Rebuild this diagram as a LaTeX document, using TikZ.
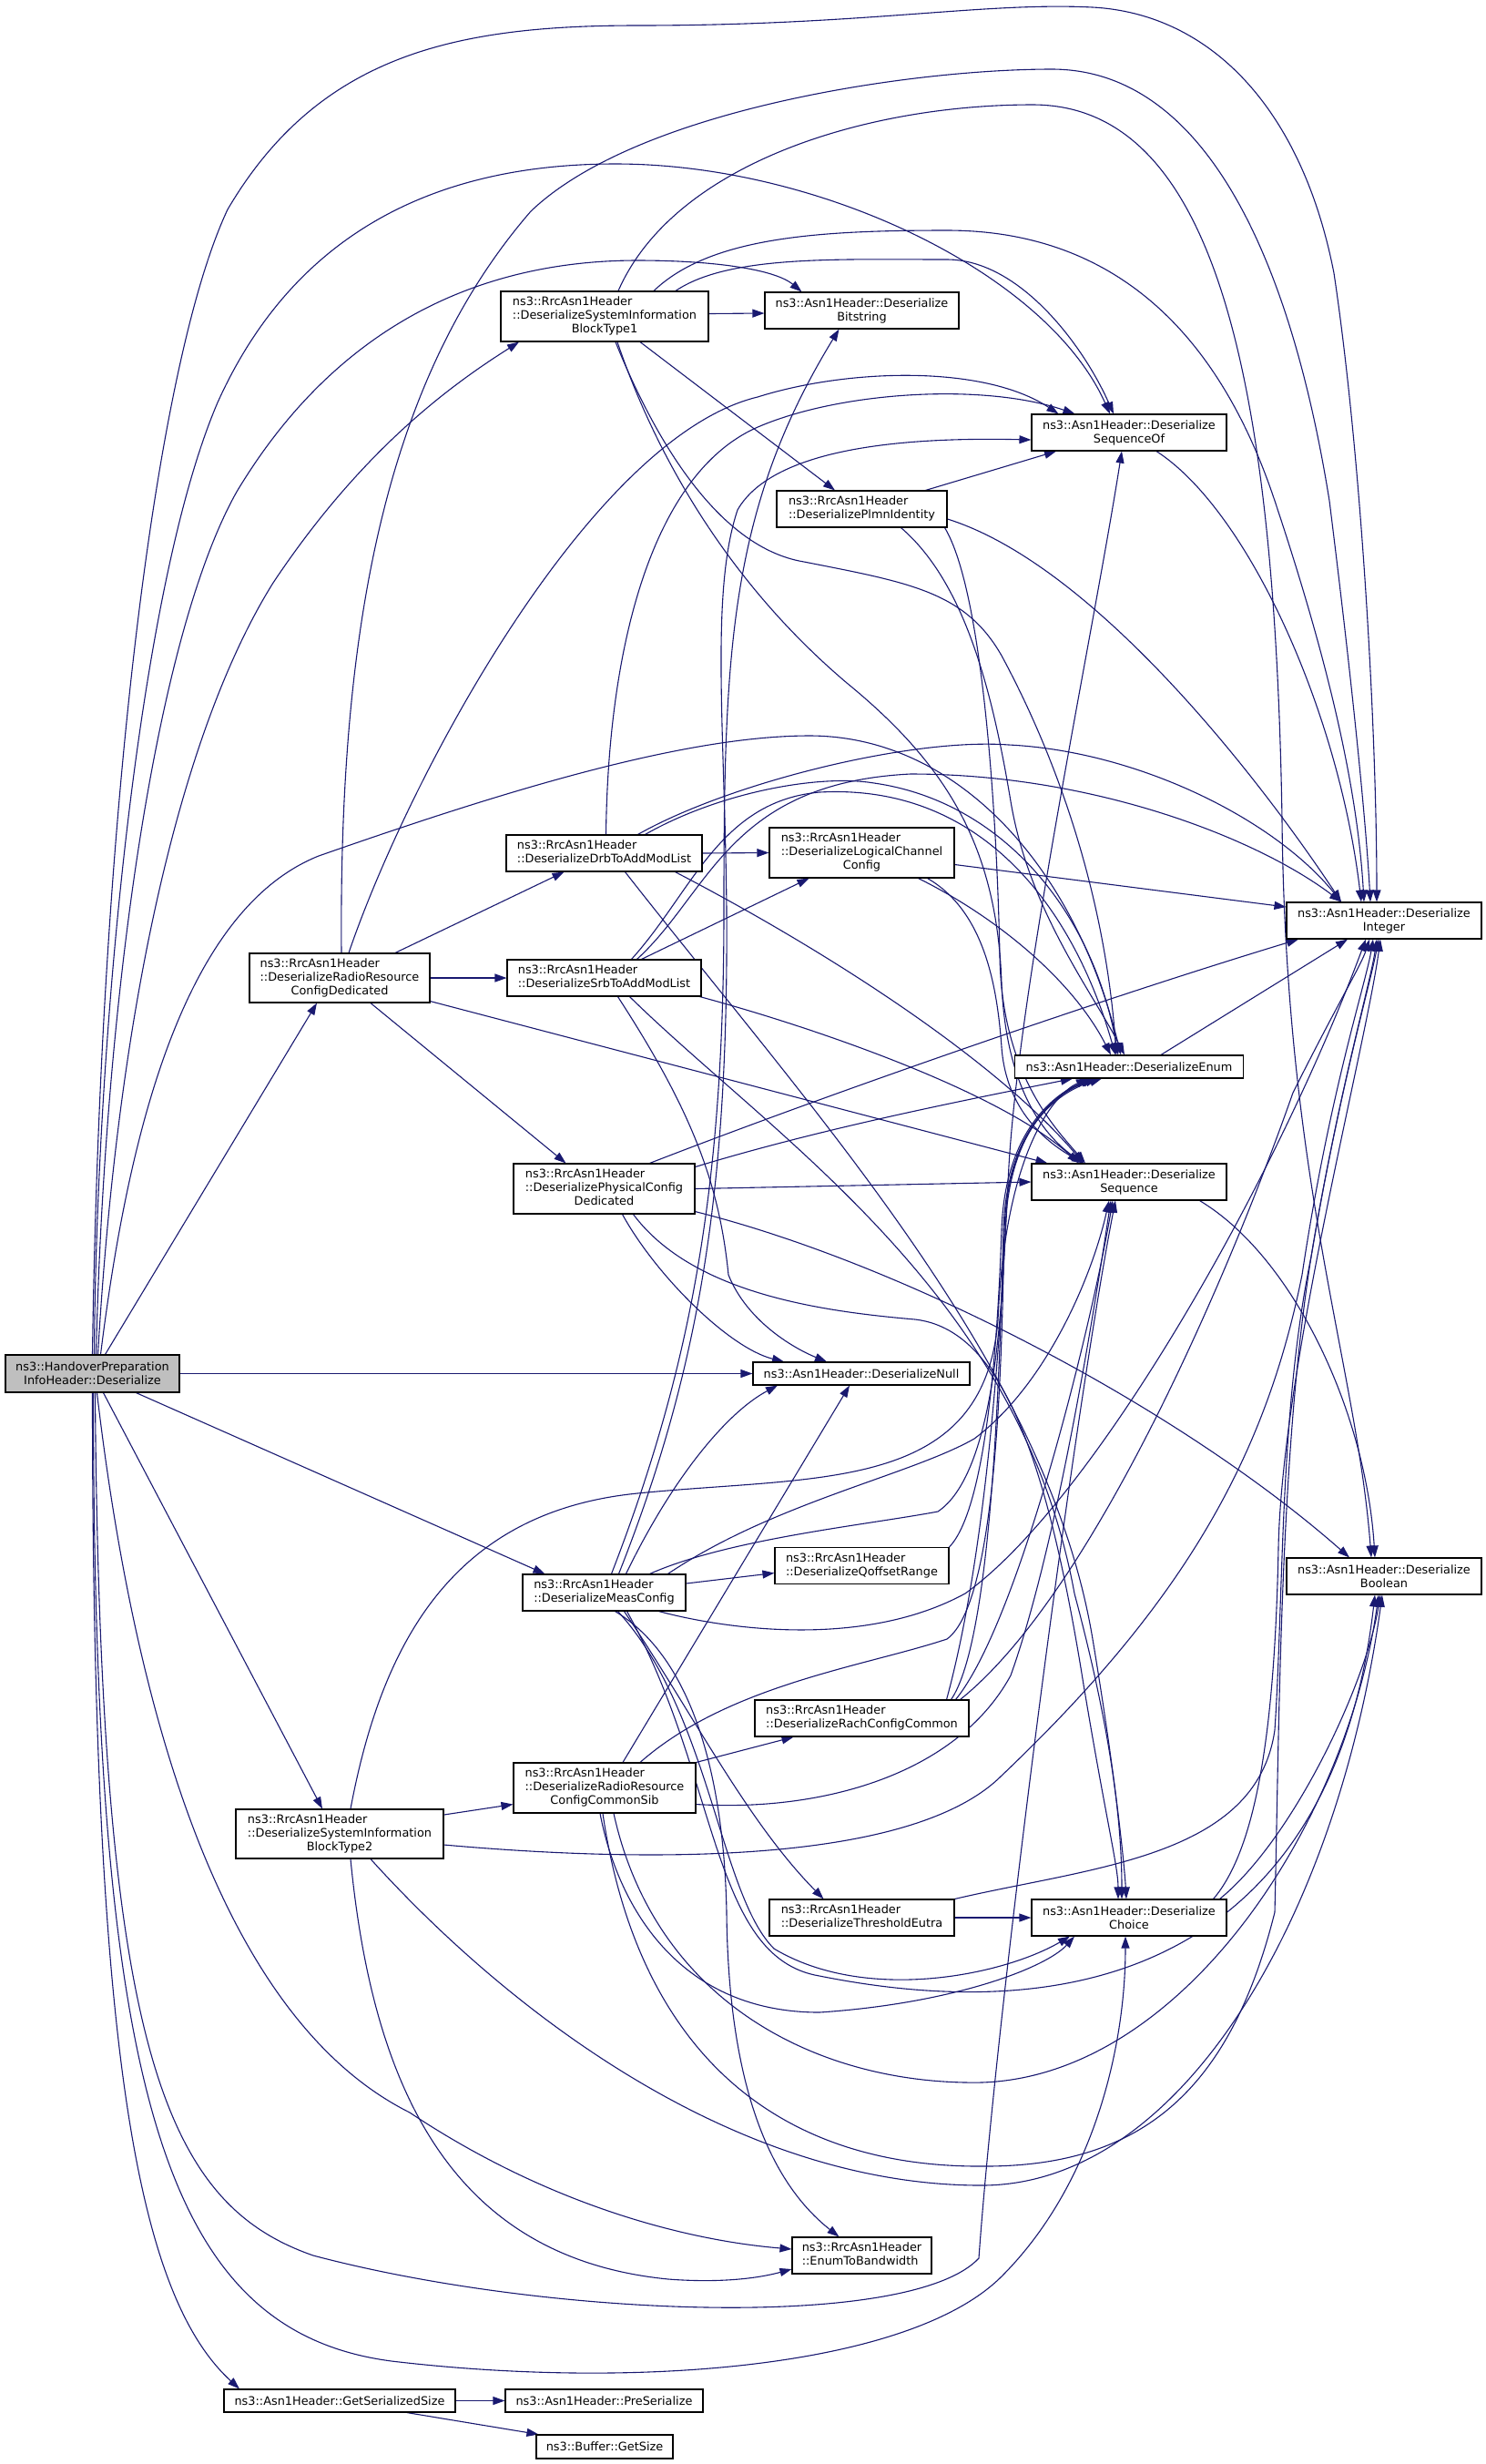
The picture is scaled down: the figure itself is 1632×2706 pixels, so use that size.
\documentclass[tikz,border=0pt]{standalone}
\usepackage{fontspec}
\setmainfont{DejaVu Sans}
\usetikzlibrary{arrows.meta,calc,backgrounds}

\definecolor{Call}{HTML}{191970}
\definecolor{Root}{HTML}{BFBFBF}

\newcommand{\dgfont}{\fontsize{6.43}{7.5}\selectfont}
\newcommand{\lft}[2]{\begin{tabular}{@{}l@{}}#1\\#2\end{tabular}}
\newcommand{\lftc}[3]{\begin{tabular}{@{}l@{}}#1\\#2\\\multicolumn{1}{@{}c@{}}{#3}\end{tabular}}

\begin{document}
\begin{tikzpicture}[x=0.5pt, y=-0.5pt,
  fn/.style={draw=black, line width=0.55pt, fill=white, inner sep=0pt, align=center, font=\dgfont},
  call/.style={draw=Call, line width=0.55pt, -{Triangle[length=6.5pt, width=4.5pt]}}]

 \useasboundingbox (0,0) rectangle (1632,2706) ;

 %%%%%%%%%% Functions %%%%%%%%%%
 \node[fn, fill=Root, minimum width=95.5pt, minimum height=20.5pt] (main) at (101.5,1508.5) {ns3::HandoverPreparation\\InfoHeader::Deserialize};
 \node[fn, minimum width=114pt, minimum height=27.5pt] (sib1) at (664,347.5) {\lftc{ns3::RrcAsn1Header}{::DeserializeSystemInformation}{BlockType1}};
 \node[fn, minimum width=106.5pt, minimum height=20pt] (bitstr) at (946.5,341) {ns3::Asn1Header::Deserialize\\Bitstring};
 \node[fn, minimum width=93.5pt, minimum height=20pt] (plmn) at (946.5,559) {\lft{ns3::RrcAsn1Header}{::DeserializePlmnIdentity}};
 \node[fn, minimum width=107pt, minimum height=20pt] (seqof) at (1240,475) {ns3::Asn1Header::Deserialize\\SequenceOf};
 \node[fn, minimum width=107.5pt, minimum height=20pt] (drb) at (663.5,937) {\lft{ns3::RrcAsn1Header}{::DeserializeDrbToAddModList}};
 \node[fn, minimum width=101.5pt, minimum height=27.5pt] (lcc) at (946.5,936.5) {\lftc{ns3::RrcAsn1Header}{::DeserializeLogicalChannel}{Config}};
 \node[fn, minimum width=99pt, minimum height=27pt] (rrcd) at (373,1074) {\lftc{ns3::RrcAsn1Header}{::DeserializeRadioResource}{ConfigDedicated}};
 \node[fn, minimum width=106.5pt, minimum height=20pt] (srb) at (663.5,1074) {\lft{ns3::RrcAsn1Header}{::DeserializeSrbToAddModList}};
 \node[fn, minimum width=107pt, minimum height=20pt] (integ) at (1520,1011) {ns3::Asn1Header::Deserialize\\Integer};
 \node[fn, minimum width=125.5pt, minimum height=12.5pt] (enum) at (1240,1171.5) {ns3::Asn1Header::DeserializeEnum};
 \node[fn, minimum width=107pt, minimum height=20pt] (seq) at (1240,1298) {ns3::Asn1Header::Deserialize\\Sequence};
 \node[fn, minimum width=99.5pt, minimum height=27.5pt] (phys) at (663.5,1305.5) {\lftc{ns3::RrcAsn1Header}{::DeserializePhysicalConfig}{Dedicated}};
 \node[fn, minimum width=119pt, minimum height=12.5pt] (dnull) at (946,1508.5) {ns3::Asn1Header::DeserializeNull};
 \node[fn, minimum width=89.5pt, minimum height=20pt] (meas) at (663.5,1749) {\lft{ns3::RrcAsn1Header}{::DeserializeMeasConfig}};
 \node[fn, minimum width=95.5pt, minimum height=20pt] (qoff) at (946.5,1719.5) {\lft{ns3::RrcAsn1Header}{::DeserializeQoffsetRange}};
 \node[fn, minimum width=107pt, minimum height=20pt] (boolean) at (1520,1731) {ns3::Asn1Header::Deserialize\\Boolean};
 \node[fn, minimum width=117.5pt, minimum height=20pt] (rach) at (946.5,1887) {\lft{ns3::RrcAsn1Header}{::DeserializeRachConfigCommon}};
 \node[fn, minimum width=100pt, minimum height=27.5pt] (rrcc) at (664,1963.5) {\lftc{ns3::RrcAsn1Header}{::DeserializeRadioResource}{ConfigCommonSib}};
 \node[fn, minimum width=114pt, minimum height=27pt] (sib2) at (373,2014) {\lftc{ns3::RrcAsn1Header}{::DeserializeSystemInformation}{BlockType2}};
 \node[fn, minimum width=101.5pt, minimum height=20pt] (thresh) at (946.5,2106) {\lft{ns3::RrcAsn1Header}{::DeserializeThresholdEutra}};
 \node[fn, minimum width=107pt, minimum height=20pt] (choice) at (1240,2106) {ns3::Asn1Header::Deserialize\\Choice};
 \node[fn, minimum width=76.5pt, minimum height=20pt] (bandw) at (946.5,2477) {\lft{ns3::RrcAsn1Header}{::EnumToBandwidth}};
 \node[fn, minimum width=127pt, minimum height=12.5pt] (getser) at (373,2636.5) {ns3::Asn1Header::GetSerializedSize};
 \node[fn, minimum width=108.5pt, minimum height=12.5pt] (preser) at (663.5,2636.5) {ns3::Asn1Header::PreSerialize};
 \node[fn, minimum width=75pt, minimum height=13pt] (bufsz) at (664,2687) {ns3::Buffer::GetSize};

 \begin{scope}[on background layer]

 %%%%%%%%%% Calls of the root %%%%%%%%%%
 \draw [call] (main.north) .. controls (110,900) and (170,400) .. (250,230) .. controls (350,60) and (500,28) .. (700,28) .. controls (950,28) and (1080,2) .. (1200,8) .. controls (1330,15) and (1430,120) .. (1465,300) .. controls (1495,500) and (1512,800) .. ($(integ.north)+(-8,0)$) ;
 \draw [call] ($(main.north)+(2,0)$) .. controls (106,1150) and (150,650) .. (239,442) .. controls (330,240) and (500,180) .. (676,180) .. controls (900,180) and (1150,300) .. ($(seqof.north)+(-21,0)$) ;
 \draw [call] ($(main.north)+(4,0)$) .. controls (115,1100) and (170,700) .. (260,540) .. controls (380,340) and (550,286) .. (700,286) .. controls (780,286) and (850,295) .. ($(bitstr.north)+(-66,0)$) ;
 \draw [call] ($(main.north)+(6,0)$) .. controls (130,1100) and (200,800) .. (300,640) .. controls (400,490) and (500,420) .. ($(sib1.south)+(-94,0)$) ;
 \draw [call] ($(main.north)+(9,0)$) .. controls (140,1250) and (200,1000) .. (350,940) .. controls (550,870) and (750,808) .. (889,808) .. controls (1050,808) and (1180,950) .. ($(enum.north)+(-9,0)$) ;
 \draw [call] ($(main.north)+(14,0)$) -- ($(rrcd.south)+(-25,0)$) ;
 \draw [call] (main.east) -- (dnull.west) ;
 \draw [call] ($(main.south)+(48,0)$) -- ($(meas.north)+(-65,0)$) ;
 \draw [call] ($(main.south)+(12,0)$) -- ($(sib2.north)+(-19,0)$) ;
 \draw [call] (main.south) .. controls (101.5,2250) and (150,2520) .. ($(getser.north)+(-110,0)$) ;
 \draw [call] ($(main.south)+(1,0)$) .. controls (103,2300) and (180,2560) .. (430,2593) .. controls (700,2625) and (1000,2600) .. (1100,2500) .. controls (1200,2400) and (1236,2250) .. ($(choice.south)+(-4,0)$) ;
 \draw [call] ($(main.south)+(3,0)$) .. controls (110,2250) and (180,2420) .. (344,2477) .. controls (600,2545) and (1000,2560) .. (1075,2480) .. controls (1095,2200) and (1180,1550) .. ($(seq.south)+(-15,0)$) ;
 \draw [call] ($(main.south)+(5,0)$) .. controls (150,1900) and (250,2220) .. (450,2320) .. controls (600,2420) and (750,2460) .. ($(bandw.west)+(0,-7)$) ;

 %%%%%%%%%% SystemInformationBlockType1 %%%%%%%%%%
 \draw [call] ($(sib1.east)+(0,-3)$) -- ($(bitstr.west)+(0,3)$) ;
 \draw [call] ($(sib1.south)+(39,0)$) -- ($(plmn.north)+(-29.5,0)$) ;
 \draw [call] ($(sib1.north)+(78,0)$) .. controls (800,280) and (920,285) .. (1040,285) .. controls (1120,285) and (1190,380) .. ($(seqof.north)+(-17,0)$) ;
 \draw [call] ($(sib1.north)+(54,0)$) .. controls (780,260) and (900,253) .. (1040,253) .. controls (1250,253) and (1350,400) .. (1400,550) .. controls (1450,700) and (1490,850) .. ($(integ.north)+(-22,0)$) ;
 \draw [call] ($(sib1.north)+(15,0)$) .. controls (740,180) and (950,115) .. (1134,115) .. controls (1330,115) and (1400,400) .. (1408,900) .. controls (1412,1300) and (1490,1500) .. ($(boolean.north)+(-14,0)$) ;
 \draw [call] ($(sib1.south)+(12,0)$) .. controls (710,460) and (780,600) .. (883,617) .. controls (1000,640) and (1060,650) .. (1100,720) .. controls (1170,850) and (1215,1000) .. ($(enum.north)+(-14,0)$) ;
 \draw [call] ($(sib1.south)+(14,0)$) .. controls (720,500) and (800,640) .. (930,750) .. controls (1040,840) and (1095,930) .. (1100,1080) .. controls (1105,1200) and (1150,1250) .. ($(seq.north)+(-50,0)$) ;

 %%%%%%%%%% PlmnIdentity and SequenceOf %%%%%%%%%%
 \draw [call] ($(plmn.north)+(70,0)$) -- ($(seqof.south)+(-80,0)$) ;
 \draw [call] ($(plmn.east)+(0,11)$) .. controls (1200,620) and (1380,850) .. ($(integ.north)+(-47,0)$) ;
 \draw [call] ($(plmn.south)+(43,0)$) .. controls (1060,640) and (1090,760) .. (1110,880) .. controls (1130,1000) and (1200,1090) .. ($(enum.north)+(-5,0)$) ;
 \draw [call] ($(plmn.south east)+(-3,0)$) .. controls (1080,650) and (1095,900) .. (1098,1050) .. controls (1100,1180) and (1160,1240) .. ($(seq.north)+(-48,0)$) ;
 \draw [call] ($(seqof.south)+(30,0)$) .. controls (1370,560) and (1470,780) .. ($(integ.north)+(-25,0)$) ;

 %%%%%%%%%% RadioResourceConfigDedicated %%%%%%%%%%
 \draw [call] ($(rrcd.north)+(61,0)$) -- ($(drb.south)+(-44,0)$) ;
 \draw [call] (rrcd.east) -- (srb.west) ;
 \draw [call] ($(rrcd.south)+(34,0)$) -- ($(phys.north)+(-42,0)$) ;
 \draw [call] ($(rrcd.south east)+(0,-2)$) -- ($(seq.north west)+(18,0)$) ;
 \draw [call] ($(rrcd.north)+(10,0)$) .. controls (450,850) and (650,480) .. (832,436) .. controls (930,405) and (1080,400) .. ($(seqof.north west)+(30,0)$) ;
 \draw [call] ($(rrcd.north)+(2,0)$) .. controls (372,700) and (420,420) .. (583,232) .. controls (700,120) and (1000,76) .. (1155,76) .. controls (1330,76) and (1420,300) .. (1460,550) .. controls (1485,750) and (1500,900) .. ($(integ.north)+(-15,0)$) ;

 %%%%%%%%%% DrbToAddModList %%%%%%%%%%
 \draw [call] (drb.east) -- (lcc.west) ;
 \draw [call] ($(drb.north)+(2,0)$) .. controls (668,700) and (720,520) .. (830,470) .. controls (920,430) and (1080,420) .. ($(seqof.north west)+(48,0)$) ;
 \draw [call] ($(drb.north)+(37,0)$) .. controls (800,860) and (1000,810) .. (1108,818) .. controls (1250,825) and (1400,900) .. ($(integ.north)+(-47,0)$) ;
 \draw [call] ($(drb.north)+(45,0)$) .. controls (790,870) and (900,850) .. (960,860) .. controls (1100,880) and (1200,1000) .. ($(enum.north)+(-12,0)$) ;
 \draw [call] ($(drb.south)+(78,0)$) .. controls (900,1040) and (1090,1160) .. ($(seq.north)+(-50,0)$) ;
 \draw [call] ($(drb.south)+(23,0)$) .. controls (900,1230) and (1150,1500) .. (1200,1800) .. controls (1225,1950) and (1235,2050) .. ($(choice.north)+(-3,0)$) ;

 %%%%%%%%%% SrbToAddModList %%%%%%%%%%
 \draw [call] ($(srb.north)+(41,0)$) -- ($(lcc.south)+(-58,0)$) ;
 \draw [call] ($(srb.north)+(36,0)$) .. controls (780,980) and (800,860) .. (1000,850) .. controls (1200,850) and (1380,920) .. ($(integ.north)+(-47,0)$) ;
 \draw [call] ($(srb.north)+(30,0)$) .. controls (760,980) and (790,880) .. (900,870) .. controls (1080,860) and (1180,1000) .. ($(enum.north)+(-15,0)$) ;
 \draw [call] ($(srb.south east)+(-2,0)$) .. controls (900,1130) and (1100,1200) .. ($(seq.north)+(-55,0)$) ;
 \draw [call] ($(srb.south)+(28,0)$) .. controls (850,1250) and (1120,1420) .. (1180,1750) .. controls (1220,1900) and (1232,2000) .. ($(choice.north)+(-8,0)$) ;
 \draw [call] ($(srb.south)+(15,0)$) .. controls (760,1220) and (790,1300) .. (800,1400) .. controls (820,1450) and (870,1480) .. ($(dnull.north)+(-38,0)$) ;

 %%%%%%%%%% LogicalChannelConfig %%%%%%%%%%
 \draw [call] ($(lcc.east)+(0,13)$) -- ($(integ.west)+(0,-15)$) ;
 \draw [call] ($(lcc.south east)+(-40,0)$) .. controls (1100,1010) and (1180,1080) .. ($(enum.north)+(-20,0)$) ;
 \draw [call] ($(lcc.south east)+(-30,0)$) .. controls (1080,1000) and (1095,1080) .. (1100,1150) .. controls (1105,1220) and (1150,1255) .. ($(seq.north)+(-50,0)$) ;

 %%%%%%%%%% PhysicalConfigDedicated %%%%%%%%%%
 \draw [call] (phys.east) -- (seq.west) ;
 \draw [call] ($(phys.north)+(50,0)$) .. controls (900,1205) and (1200,1100) .. ($(integ.south)+(-94,0)$) ;
 \draw [call] ($(phys.east)+(0,-24)$) .. controls (900,1240) and (1050,1210) .. ($(enum.south)+(-62,0)$) ;
 \draw [call] ($(phys.south east)+(0,-3)$) .. controls (1000,1390) and (1300,1550) .. ($(boolean.north)+(-38,0)$) ;
 \draw [call] ($(phys.south)+(20,0)$) .. controls (720,1400) and (800,1480) .. ($(dnull.north)+(-85,0)$) ;
 \draw [call] ($(phys.south)+(32,0)$) .. controls (760,1420) and (900,1440) .. (1005,1449) .. controls (1100,1460) and (1150,1600) .. (1190,1850) .. controls (1215,2000) and (1228,2050) .. ($(choice.north)+(-12,0)$) ;

 %%%%%%%%%% MeasConfig %%%%%%%%%%
 \draw [call] ($(meas.east)+(0,-10)$) -- ($(qoff.west)+(0,8)$) ;
 \draw [call] ($(meas.south)+(22,0)$) .. controls (760,1880) and (820,2000) .. ($(thresh.north)+(-42,0)$) ;
 \draw [call] ($(meas.south)+(12,0)$) .. controls (760,1820) and (795,1950) .. (798,2100) .. controls (800,2300) and (850,2400) .. ($(bandw.north)+(-25,0)$) ;
 \draw [call] ($(meas.north)+(8,0)$) .. controls (760,1500) and (795,1300) .. (795,1000) .. controls (795,720) and (800,560) .. ($(bitstr.south)+(-25,0)$) ;
 \draw [call] ($(meas.north)+(16,0)$) .. controls (770,1500) and (800,1300) .. (798,1000) .. controls (796,800) and (780,650) .. (810,560) .. controls (850,490) and (1000,480) .. ($(seqof.west)+(0,8)$) ;
 \draw [call] ($(meas.north)+(24,0)$) .. controls (740,1620) and (800,1550) .. ($(dnull.south)+(-92,0)$) ;
 \draw [call] ($(meas.north)+(50,0)$) .. controls (800,1690) and (950,1675) .. (1030,1660) .. controls (1090,1620) and (1100,1450) .. (1104,1350) .. controls (1108,1240) and (1160,1200) .. ($(enum.south)+(-38,0)$) ;
 \draw [call] ($(meas.north)+(70,0)$) .. controls (850,1650) and (1000,1620) .. (1070,1580) .. controls (1150,1520) and (1200,1400) .. ($(seq.south)+(-22,0)$) ;
 \draw [call] ($(meas.south east)+(-30,0)$) .. controls (800,1790) and (950,1810) .. (1060,1750) .. controls (1200,1650) and (1400,1300) .. ($(integ.south)+(-20,0)$) ;
 \draw [call] ($(meas.south)+(15,0)$) .. controls (780,1880) and (790,2080) .. (850,2140) .. controls (950,2200) and (1100,2170) .. ($(choice.south)+(-65,0)$) ;
 \draw [call] ($(meas.south)+(25,0)$) .. controls (790,1950) and (780,2150) .. (900,2170) .. controls (1250,2240) and (1470,2100) .. ($(boolean.south)+(-10,0)$) ;

 %%%%%%%%%% QoffsetRange and RachConfigCommon %%%%%%%%%%
 \draw [call] (qoff.north east) .. controls (1080,1660) and (1095,1500) .. (1100,1350) .. controls (1104,1240) and (1160,1200) .. ($(enum.south)+(-40,0)$) ;
 \draw [call] ($(rach.north east)+(-20,0)$) .. controls (1090,1800) and (1098,1500) .. (1102,1350) .. controls (1106,1240) and (1160,1200) .. ($(enum.south)+(-35,0)$) ;
 \draw [call] ($(rach.north east)+(-15,0)$) .. controls (1120,1780) and (1200,1450) .. ($(seq.south)+(-18,0)$) ;
 \draw [call] ($(rach.north east)+(-10,0)$) .. controls (1200,1750) and (1350,1400) .. (1420,1200) .. controls (1470,1100) and (1495,1060) .. ($(integ.south)+(-16,0)$) ;
 \draw [call] ($(rach.north east)+(-25,0)$) .. controls (1085,1700) and (1100,1450) .. (1107,1300) .. controls (1115,1100) and (1200,700) .. ($(seqof.south)+(-8,0)$) ;

 %%%%%%%%%% RadioResourceConfigCommonSib %%%%%%%%%%
 \draw [call] (rrcc.north east) -- ($(rach.south)+(-75,0)$) ;
 \draw [call] ($(rrcc.north)+(20,0)$) -- ($(dnull.south)+(-13,0)$) ;
 \draw [call] ($(rrcc.north)+(39,0)$) .. controls (800,1850) and (950,1830) .. (1040,1800) .. controls (1095,1760) and (1100,1500) .. (1103,1350) .. controls (1107,1240) and (1160,1200) .. ($(enum.south)+(-30,0)$) ;
 \draw [call] ($(rrcc.east)+(0,18)$) .. controls (900,1990) and (1050,1950) .. (1110,1840) .. controls (1160,1700) and (1200,1450) .. ($(seq.south)+(-20,0)$) ;
 \draw [call] ($(rrcc.south)+(-5,0)$) .. controls (680,2100) and (750,2210) .. (900,2210) .. controls (1050,2200) and (1150,2160) .. ($(choice.south)+(-60,0)$) ;
 \draw [call] ($(rrcc.south)+(10,0)$) .. controls (720,2200) and (900,2290) .. (1078,2287) .. controls (1300,2280) and (1480,2000) .. ($(boolean.south)+(-6,0)$) ;
 \draw [call] ($(rrcc.south)+(-2,0)$) .. controls (700,2250) and (850,2380) .. (1078,2379) .. controls (1250,2380) and (1350,2300) .. (1400,2100) .. controls (1405,1900) and (1405,1600) .. (1440,1380) .. controls (1470,1200) and (1505,1080) .. ($(integ.south)+(-8,0)$) ;

 %%%%%%%%%% SystemInformationBlockType2 %%%%%%%%%%
 \draw [call] ($(sib2.east)+(0,-21)$) -- ($(rrcc.west)+(0,18)$) ;
 \draw [call] ($(sib2.north)+(12,0)$) .. controls (420,1800) and (500,1660) .. (700,1640) .. controls (900,1620) and (1080,1640) .. (1096,1450) .. controls (1104,1260) and (1160,1200) .. ($(enum.south)+(-45,0)$) ;
 \draw [call] ($(sib2.east)+(0,12)$) .. controls (700,2045) and (1000,2050) .. (1100,1950) .. controls (1300,1760) and (1390,1600) .. (1430,1400) .. controls (1460,1200) and (1500,1080) .. ($(integ.south)+(-12,0)$) ;
 \draw [call] ($(sib2.south)+(34,0)$) .. controls (550,2200) and (800,2400) .. (1078,2400) .. controls (1300,2400) and (1470,2100) .. ($(boolean.south)+(-2,0)$) ;
 \draw [call] ($(sib2.south)+(12,0)$) .. controls (410,2300) and (500,2480) .. (734,2503) .. controls (800,2508) and (840,2500) .. ($(bandw.west)+(0,15)$) ;

 %%%%%%%%%% ThresholdEutra, Choice, Sequence, Enum %%%%%%%%%%
 \draw [call] (thresh.east) -- (choice.west) ;
 \draw [call] (thresh.north east) .. controls (1200,2050) and (1380,2040) .. (1400,1900) .. controls (1410,1750) and (1405,1550) .. (1440,1380) .. controls (1470,1200) and (1505,1080) .. ($(integ.south)+(-6,0)$) ;
 \draw [call] ($(choice.north east)+(-15,0)$) .. controls (1380,2030) and (1400,1900) .. (1404,1700) .. controls (1408,1500) and (1500,1150) .. ($(integ.south)+(-4,0)$) ;
 \draw [call] ($(choice.north east)+(-8,0)$) .. controls (1420,2020) and (1500,1850) .. ($(boolean.south)+(-4,0)$) ;
 \draw [call] ($(seq.south east)+(-30,0)$) .. controls (1420,1380) and (1500,1550) .. ($(boolean.north)+(-10,0)$) ;
 \draw [call] ($(enum.north)+(35,0)$) -- ($(integ.south)+(-40,0)$) ;

 %%%%%%%%%% GetSerializedSize %%%%%%%%%%
 \draw [call] (getser.east) -- (preser.west) ;
 \draw [call] ($(getser.south)+(74,0)$) -- ($(bufsz.north west)+(3,0)$) ;

 \end{scope}

\end{tikzpicture}
\end{document}
